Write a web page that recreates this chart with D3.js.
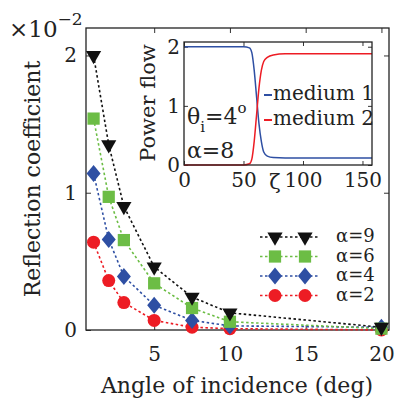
<!DOCTYPE html>
<html>
<head>
<meta charset="utf-8">
<script src="https://cdn.jsdelivr.net/npm/d3@7"></script>
<style>
  body { margin: 0; background: #fff; }
  svg text { font-family: "DejaVu Serif", serif; fill: #222; }
</style>
</head>
<body>
<svg id="chart" width="395" height="407"></svg>
<script>
// main plot data (reflection coefficient, in units of 1e-2)
const angles = [1, 2, 3, 5, 7.5, 10, 20];
const alpha9 = [2.0, 1.35, 0.90, 0.46, 0.24, 0.125, 0.02];
const alpha6 = [1.54, 0.97, 0.655, 0.34, 0.16, 0.06, 0.01];
const alpha4 = [1.14, 0.66, 0.39, 0.18, 0.07, 0.03, 0.02];
const alpha2 = [0.64, 0.36, 0.20, 0.07, 0.02, 0.01, 0.0];
const seriesNames = ["\u03b1=9", "\u03b1=6", "\u03b1=4", "\u03b1=2"];
const xTicks = [5, 10, 15, 20];
const yTicks = [0, 1, 2];

// inset data (power flow vs zeta)
const zeta    = [0, 50, 55, 57, 59, 61, 63, 65, 67, 70, 75, 85, 158];
const medium1 = [2.0, 2.0, 1.98, 1.9, 1.6, 1.15, 0.7, 0.4, 0.22, 0.15, 0.125, 0.12, 0.12];
const medium2 = [0.0, 0.0, 0.02, 0.1, 0.4, 0.85, 1.3, 1.6, 1.75, 1.82, 1.86, 1.88, 1.88];
const insetXTicks = [0, 50, 100, 150];
const insetYTicks = [0, 1, 2];

const svg = d3.select("#chart");

const black = "#111111", green = "#6cbd45", blue = "#2e4fa3", red = "#ed1c24";
const fmt = d3.format("d");

// ---------- main axes ----------
const x = d3.scaleLinear().domain([0.5, 20.5]).range([86, 389]);
const y = d3.scaleLinear().domain([0, 2.2]).range([330, 28]);

const xAxis = svg.append("g").attr("transform", "translate(0,330)")
  .call(d3.axisBottom(x).tickValues(xTicks).tickSize(-5).tickPadding(17).tickFormat(fmt))
  .call(g => g.select(".domain").remove());
svg.append("g").attr("transform", "translate(0,28)")
  .call(d3.axisTop(x).tickValues(xTicks).tickSize(-5).tickFormat(""))
  .call(g => g.select(".domain").remove());
const yAxis = svg.append("g").attr("transform", "translate(86,0)")
  .call(d3.axisLeft(y).tickValues(yTicks).tickSize(-5).tickPadding(9).tickFormat(fmt))
  .call(g => g.select(".domain").remove());
svg.append("g").attr("transform", "translate(389,0)")
  .call(d3.axisRight(y).tickValues(yTicks).tickSize(-5).tickFormat(""))
  .call(g => g.select(".domain").remove());

svg.selectAll(".tick line").attr("stroke", "#333");
xAxis.selectAll("text").style("font-size", "20px");
yAxis.selectAll("text").style("font-size", "20px");

svg.append("rect")
  .attr("x", 86).attr("y", 28).attr("width", 303).attr("height", 302)
  .attr("fill", "none").attr("stroke", "#222").attr("stroke-width", 1.3);

// axis titles
svg.append("text")
  .attr("x", 237).attr("y", 393)
  .attr("text-anchor", "middle").style("font-size", "22px")
  .text("Angle of incidence (deg)");
svg.append("text")
  .attr("transform", "translate(40,179) rotate(-90)")
  .attr("text-anchor", "middle").style("font-size", "22px")
  .text("Reflection coefficient");

const mult = svg.append("text").attr("x", 9).attr("y", 37).style("font-size", "23px");
mult.append("tspan").text("\u00d710");
mult.append("tspan").attr("dy", -12).style("font-size", "17px").text("\u22122");

// ---------- markers ----------
const diamond = {
  draw(ctx, size) {
    const w = 7, h = 8.5;
    ctx.moveTo(0, -h); ctx.lineTo(w, 0); ctx.lineTo(0, h); ctx.lineTo(-w, 0); ctx.closePath();
  }
};
const series = [
  { name: seriesNames[3], vals: alpha2, color: red,   sym: d3.symbolCircle,   size: 133, rot: 0 },
  { name: seriesNames[2], vals: alpha4, color: blue,  sym: diamond,           size: 100, rot: 0 },
  { name: seriesNames[1], vals: alpha6, color: green, sym: d3.symbolSquare,   size: 150, rot: 0 },
  { name: seriesNames[0], vals: alpha9, color: black, sym: d3.symbolTriangle, size: 100, rot: 180 }
];

const line = d3.line().x(d => x(d[0])).y(d => y(d[1]));

series.forEach(s => {
  const pts = angles.map((a, i) => [a, s.vals[i]]);
  svg.append("path").datum(pts)
    .attr("d", line)
    .attr("fill", "none").attr("stroke", s.color)
    .attr("stroke-width", 1.6).attr("stroke-dasharray", "2.5,2.5");
  svg.append("g").selectAll("path").data(pts).join("path")
    .attr("d", d3.symbol(s.sym, s.size))
    .attr("transform", d => `translate(${x(d[0])},${y(d[1])}) rotate(${s.rot})`)
    .attr("fill", s.color);
});

// legend
const legendRows = [...series].reverse();
const legend = svg.append("g");
legendRows.forEach((s, i) => {
  const ly = 237 + i * 19.5;
  legend.append("line")
    .attr("x1", 260).attr("x2", 318).attr("y1", ly).attr("y2", ly)
    .attr("stroke", s.color).attr("stroke-width", 1.6).attr("stroke-dasharray", "2.5,2.5");
  [275, 305].forEach(mx => {
    legend.append("path")
      .attr("d", d3.symbol(s.sym, s.size))
      .attr("transform", `translate(${mx},${ly}) rotate(${s.rot})`)
      .attr("fill", s.color);
  });
  legend.append("text")
    .attr("x", 336).attr("y", ly + 5).style("font-size", "18px")
    .text(s.name);
});

// ---------- inset ----------
const ix = d3.scaleLinear().domain([0, 158]).range([184, 372]);
const iy = d3.scaleLinear().domain([0, 2.08]).range([165, 42]);

svg.append("rect")
  .attr("x", 184).attr("y", 42).attr("width", 188).attr("height", 123)
  .attr("fill", "#fff");

const ixAxis = svg.append("g").attr("transform", "translate(0,165)")
  .call(d3.axisBottom(ix).tickValues(insetXTicks).tickSize(-4).tickPadding(8).tickFormat(fmt))
  .call(g => g.select(".domain").remove());
svg.append("g").attr("transform", "translate(0,42)")
  .call(d3.axisTop(ix).tickValues(insetXTicks).tickSize(-4).tickFormat(""))
  .call(g => g.select(".domain").remove());
const iyAxis = svg.append("g").attr("transform", "translate(184,0)")
  .call(d3.axisLeft(iy).tickValues(insetYTicks).tickSize(-4).tickPadding(4).tickFormat(fmt))
  .call(g => g.select(".domain").remove());
svg.append("g").attr("transform", "translate(372,0)")
  .call(d3.axisRight(iy).tickValues(insetYTicks).tickSize(-4).tickFormat(""))
  .call(g => g.select(".domain").remove());

svg.selectAll(".tick line").attr("stroke", "#333");
ixAxis.selectAll("text").style("font-size", "20px");
iyAxis.selectAll("text").style("font-size", "20px");

const iline = d3.line().x(d => ix(d[0])).y(d => iy(d[1])).curve(d3.curveMonotoneX);
svg.append("path").datum(zeta.map((z, i) => [z, medium1[i]]))
  .attr("d", iline).attr("fill", "none").attr("stroke", blue).attr("stroke-width", 1.5);
svg.append("path").datum(zeta.map((z, i) => [z, medium2[i]]))
  .attr("d", iline).attr("fill", "none").attr("stroke", red).attr("stroke-width", 1.5);

svg.append("rect")
  .attr("x", 184).attr("y", 42).attr("width", 188).attr("height", 123)
  .attr("fill", "none").attr("stroke", "#222").attr("stroke-width", 1.3);

// inset labels
svg.append("text")
  .attr("transform", "translate(155,103) rotate(-90)")
  .attr("text-anchor", "middle").style("font-size", "21px")
  .text("Power flow");
svg.append("text")
  .attr("x", 275).attr("y", 189).attr("text-anchor", "middle").style("font-size", "21px")
  .text("\u03b6");

[{ label: "medium 1", color: blue, ly: 95 }, { label: "medium 2", color: red, ly: 120 }].forEach(d => {
  svg.append("line")
    .attr("x1", 264).attr("x2", 272).attr("y1", d.ly).attr("y2", d.ly)
    .attr("stroke", d.color).attr("stroke-width", 2);
  svg.append("text")
    .attr("x", 273).attr("y", d.ly + 5).style("font-size", "20px")
    .text(d.label);
});

const theta = svg.append("text").attr("x", 187).attr("y", 124).style("font-size", "22px");
theta.append("tspan").text("\u03b8");
theta.append("tspan").attr("dy", 8).style("font-size", "15px").text("i");
theta.append("tspan").attr("dy", -8).text("=4");
theta.append("tspan").attr("dy", -11).style("font-size", "15px").text("o");

svg.append("text").attr("x", 187).attr("y", 158).style("font-size", "22px").text("\u03b1=8");
</script>
</body>
</html>
